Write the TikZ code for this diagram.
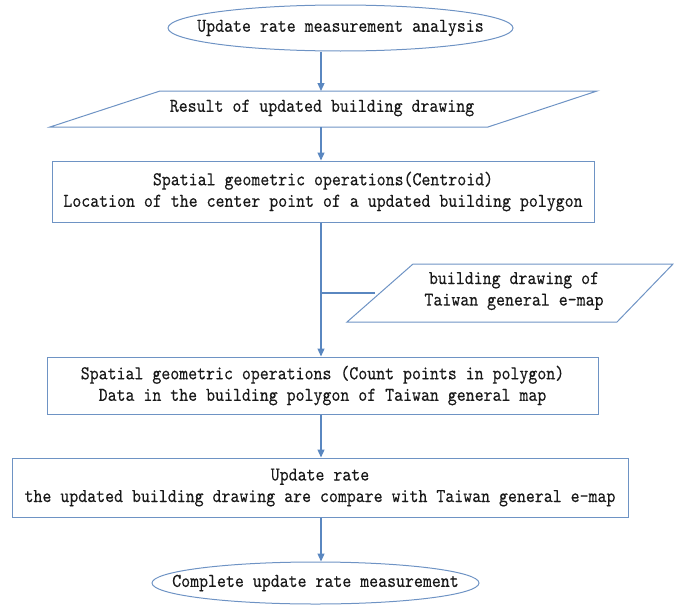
\documentclass[tikz,border=0pt]{standalone}
\usepackage{fontspec}
\setmonofont{lmmono10-regular.otf}[FakeStretch=0.87,FakeBold=0.25]
\usetikzlibrary{shapes.geometric,arrows.meta}
\definecolor{edgec}{HTML}{6E93C4}
\definecolor{arrc}{HTML}{5A87C0}
\begin{document}
\begin{tikzpicture}[x=1pt,y=-1pt,
  every node/.style={font=\ttfamily\fontsize{19.6}{21.5}\selectfont, text=black!90},
  every label/.style={font=\ttfamily\fontsize{19.6}{21.5}\selectfont, text=black!90, inner sep=0pt},
  shp/.style={draw=edgec, line width=1pt},
  box/.style={shp, rectangle, inner sep=0pt, align=center},
  term/.style={shp, ellipse, inner sep=0pt},
  txt/.style={align=center, inner sep=0pt},
  conn/.style={draw=arrc, line width=1.2pt},
  arrow/.style={conn, -{Triangle[length=8pt,width=7pt]}}]
\useasboundingbox (0,0) rectangle (674,605);
% start terminal
\node[term, minimum width=345pt, minimum height=46pt, label={center:Update rate measurement analysis}] (start) at (340.5,28) {};
% input parallelogram 1
\draw[shp] (160,91) -- (597,91) -- (488,127) -- (50,127) -- cycle;
\node[txt] (p1) at (322,108) {Result of updated building drawing};
\coordinate (p1top) at (321,91);
\coordinate (p1bot) at (321,127);
% box 1
\node[box, minimum width=542pt, minimum height=61pt] (b1) at (323,191.5)
  {Spatial geometric operations(Centroid)\\Location of the center point of a updated building polygon};
% side input parallelogram
\draw[shp] (413,264) -- (673,264) -- (617,322) -- (347,322) -- cycle;
\node[txt] (p2) at (514,291) {building drawing of\\Taiwan general e-map};
\coordinate (j) at (321,293);
\coordinate (p2left) at (375,293);
% box 2
\node[box, minimum width=551pt, minimum height=57pt] (b2) at (322.5,385.5)
  {Spatial geometric operations (Count points in polygon)\\Data in the building polygon of Taiwan general map};
% box 3
\node[box, minimum width=616pt, minimum height=59pt] (b3) at (320,487.5)
  {Update rate\\the updated building drawing are compare with Taiwan general e-map};
% end terminal
\node[term, minimum width=327pt, minimum height=42pt, label={center:Complete update rate measurement}] (end) at (315.5,583) {};
% connectors
\draw[arrow] (start.south -| p1top) -- (p1top);
\draw[arrow] (p1bot) -- (p1bot |- b1.north);
\draw[arrow] (b1.south -| j) -- (b2.north -| j);
\draw[conn] (j) -- (p2left);
\draw[arrow] (b2.south -| j) -- (b3.north -| j);
\draw[arrow] (b3.south -| j) -- (end.north -| j);
\end{tikzpicture}
\end{document}
